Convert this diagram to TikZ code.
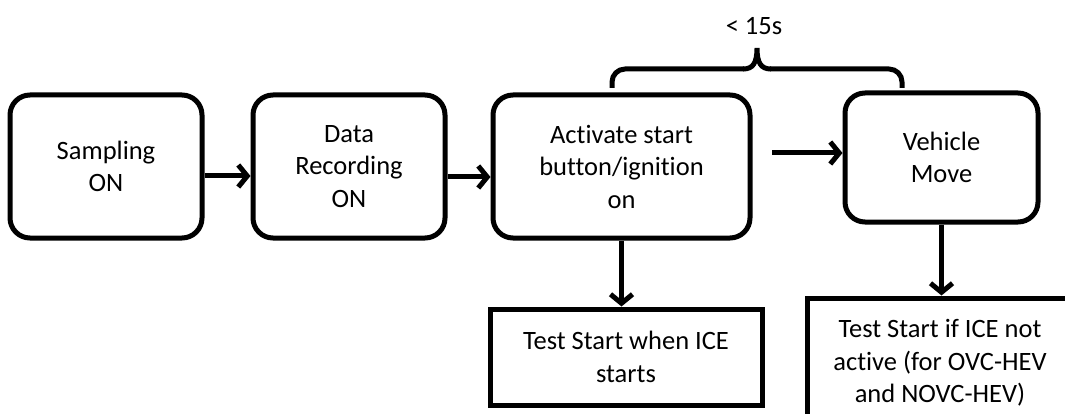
\documentclass[tikz,border=0pt]{standalone}
\usepackage{fontspec}
\setmainfont{Carlito}[Ligatures={NoCommon}]
\usetikzlibrary{arrows.meta}
\tikzset{
  rbox/.style={draw, line width=5pt, rounded corners=20pt, align=center, inner sep=0pt,
    font=\fontsize{26.5}{32.5}\selectfont},
  sbox/.style={draw, line width=5pt, align=center, inner sep=0pt,
    font=\fontsize{26.5}{32.5}\selectfont},
  arr/.style={line width=5pt, -{Straight Barb[length=9pt,width=22pt,line width=5pt]}}
}
\begin{document}
\begin{tikzpicture}[x=1pt,y=-1pt]
\useasboundingbox (0,0) rectangle (1065,414);
\clip (0,0) rectangle (1065,414);
\node[rbox, minimum width=192pt, minimum height=143pt] (s1) at (106,166.5) {Sampling\\ON};
\node[rbox, minimum width=192pt, minimum height=143pt] (s2) at (349,166.5) {Data\\Recording\\ON};
\node[rbox, minimum width=257pt, minimum height=143pt] (s3) at (621.5,166.5) {Activate start\\button/ignition\\on};
\node[rbox, minimum width=193pt, minimum height=129pt] (s4) at (941.5,157.5) {Vehicle\\Move};
\node[sbox, minimum width=272pt, minimum height=96pt] (s5) at (626,357) {Test Start when ICE\\starts};
\node[sbox, minimum width=266pt, minimum height=130pt] (s6) at (940,363) {Test Start if ICE not\\active (for OVC-HEV\\and NOVC-HEV)};
\draw[arr] ([yshift=-9.5pt]s1.east) -- ([yshift=-9.5pt]s2.west);
\draw[arr] ([yshift=-10.5pt]s2.east) -- ([yshift=-10.5pt]s3.west);
\coordinate (a3) at (772,153);
\draw[arr] (a3) -- (a3 -| s4.west);
\draw[arr] (s3.south) -- (s3.south |- s5.north);
\draw[arr] (s4.south) -- (s4.south |- s6.north);
% brace
\coordinate (bl) at (612,88);
\coordinate (br) at (902,88);
\coordinate (bt) at (757,48);
\draw[line width=5pt, line join=round, rounded corners=13pt]
  (bl) -- (612,69) -- (744,69);
\draw[line width=5pt, line join=round, rounded corners=13pt]
  (770,69) -- (902,69) -- (br);
\draw[line width=5pt, line join=miter]
  (743,69) .. controls (753,69) and (757,63) .. (bt)
  .. controls (757,63) and (761,69) .. (771,69);
\node[font=\fontsize{26.5}{32.5}\selectfont] (lbl) at (754,26) {< 15s};
\end{tikzpicture}
\end{document}
